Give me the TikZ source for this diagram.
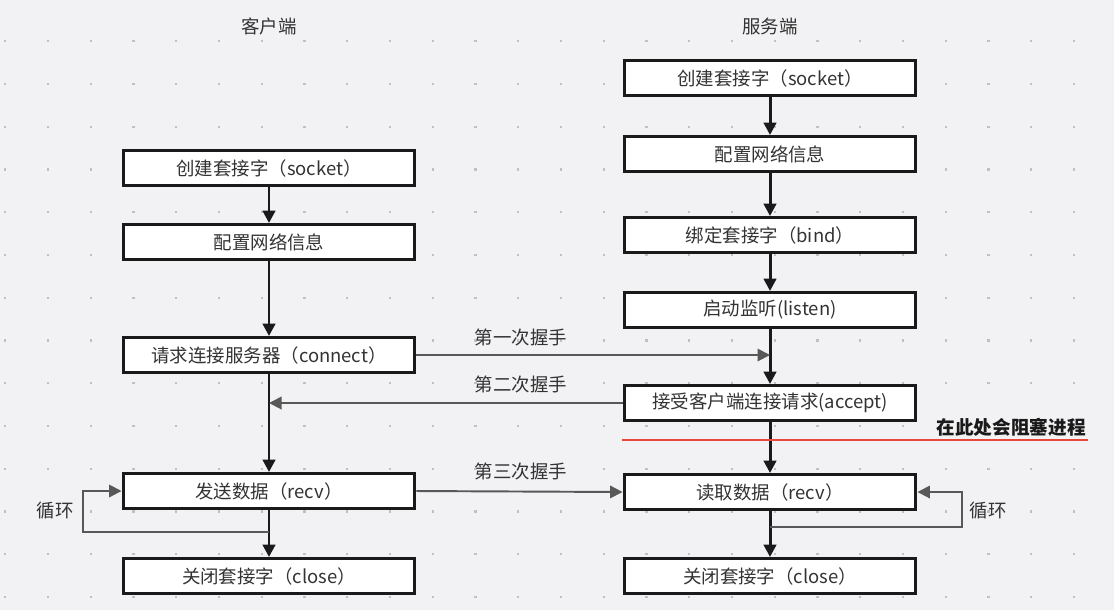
\documentclass[tikz,border=0pt]{standalone}
\usepackage{fontspec}
\setmainfont{Noto Sans CJK SC}
\usepackage{tikz}
\usetikzlibrary{arrows.meta,positioning,calc}
\definecolor{bgpaper}{RGB}{242,242,244}
\definecolor{griddot}{RGB}{192,192,196}
\definecolor{inkblack}{RGB}{26,26,26}
\definecolor{wiregray}{RGB}{88,88,88}
\definecolor{textgray}{RGB}{51,51,51}
\definecolor{blockred}{RGB}{232,72,60}

\begin{document}
\begin{tikzpicture}[x=0.02cm, y=-0.02cm,
    box/.style={rectangle, draw=inkblack, line width=1.7pt, fill=white, minimum width=5.84cm, minimum height=0.70cm, inner sep=0pt, text=textgray, font=\fontsize{10.5}{12}\selectfont},
    lbl/.style={text=textgray, inner sep=1pt, font=\fontsize{10.5}{12}\selectfont},
    arrow/.style={line width=1.7pt, draw=inkblack, -{Triangle[length=0.25cm, width=0.25cm]}},
    handshake/.style={line width=1.1pt, draw=wiregray, -{Triangle[length=0.25cm, width=0.25cm]}}
]
    \useasboundingbox[fill=bgpaper] (0,0) rectangle (1114,610);
    \foreach \i in {0,...,25}
        \foreach \j in {0,...,13}
            \fill[griddot] ({4+42.75*\i},{40+42.75*\j}) rectangle ++(2.4,2.4);

    \node[lbl] (client) at (269,26) {客户端};
    \node[lbl] (server) at (770,26) {服务端};

    % client side
    \node[box] (c1) at (269,168) {创建套接字（socket）};
    \node[box] (c2) at (269,242) {配置网络信息};
    \node[box] (c3) at (269,355) {请求连接服务器（connect）};
    \node[box] (c4) at (269,491) {发送数据（recv）};
    \node[box] (c5) at (269,576) {关闭套接字（close）};

    % server side
    \node[box] (s1) at (770,78) {创建套接字（socket）};
    \node[box] (s2) at (770,154) {配置网络信息};
    \node[box] (s3) at (770,235) {绑定套接字（bind）};
    \node[box] (s4) at (770,310) {启动监听(listen)};
    \node[box] (s5) at (770,403) {接受客户端连接请求(accept)};
    \node[box] (s6) at (770,492) {读取数据（recv）};
    \node[box] (s7) at (770,576) {关闭套接字（close）};

    \draw[arrow] (c1) -- (c2);
    \draw[arrow] (c2) -- (c3);
    \draw[arrow] (c3) -- (c4);
    \draw[arrow] (c4) -- (c5);
    \draw[arrow] (s1) -- (s2);
    \draw[arrow] (s2) -- (s3);
    \draw[arrow] (s3) -- (s4);
    \draw[arrow] (s4) -- (s5);
    \draw[arrow] (s5) -- (s6);
    \draw[arrow] (s6) -- (s7);

    % handshakes
    \draw[handshake] (c3.east) -- (s4.south |- c3.east);
    \draw[handshake] (s5.west) -- (c3.south |- s5.west);
    \draw[handshake] (c4.east) -- (s6.west);
    \node[lbl] (hs1) at (521,337) {第一次握手};
    \node[lbl] (hs2) at (521,384) {第二次握手};
    \node[lbl] (hs3) at (521,471) {第三次握手};

    % loops
    \coordinate (loopL) at (269,532);
    \coordinate (turnL) at (83,532);
    \draw[handshake] (loopL) -- (turnL) |- (c4.west);
    \node[lbl] (cycL) at (55,511) {循环};
    \coordinate (loopR) at (770,527);
    \coordinate (turnR) at (962,527);
    \draw[handshake] (loopR) -- (turnR) |- (s6.east);
    \node[lbl] (cycR) at (988,511) {循环};

    % blocking
    \coordinate (blk1) at (622,440);
    \coordinate (blk2) at (1088,440);
    \draw[blockred, line width=1.2pt] (blk1) -- (blk2);
    \node[anchor=east, inner sep=0pt, text=inkblack, font=\fontsize{10.6}{13}\selectfont\bfseries] (block) at (1086,427) {在此处会阻塞进程};
\end{tikzpicture}
\end{document}
